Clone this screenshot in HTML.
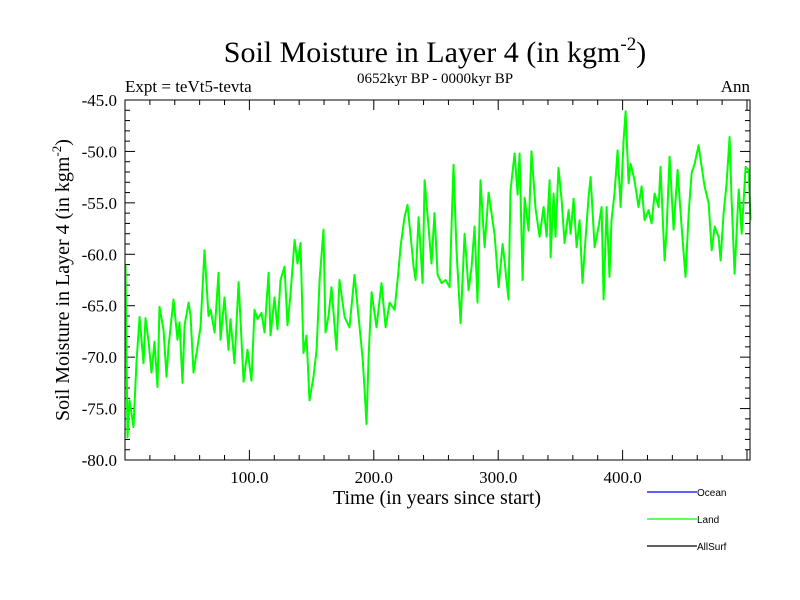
<!DOCTYPE html>
<html><head><meta charset="utf-8"><style>
body{margin:0;background:#fff;}
svg{display:block;font-family:"Liberation Serif",serif;}
</style></head><body>
<svg id="c" width="800" height="600" viewBox="0 0 800 600">
<text x="435" y="62" font-size="30" text-anchor="middle">Soil Moisture in Layer 4 (in kgm<tspan dy="-12" font-size="19">-2</tspan><tspan dy="12">)</tspan></text>
<text x="125" y="92" font-size="17">Expt = teVt5-tevta</text>
<text x="435" y="83" font-size="15" text-anchor="middle">0652kyr BP - 0000kyr BP</text>
<text x="750" y="92" font-size="17" text-anchor="end">Ann</text>
<text x="437" y="504" font-size="20" text-anchor="middle">Time (in years since start)</text>
<text transform="translate(69,280) rotate(-90)" font-size="20" text-anchor="middle">Soil Moisture in Layer 4 (in kgm<tspan dy="-8" font-size="13">-2</tspan><tspan dy="8">)</tspan></text>
<g id="ticks"></g>
<g id="series"></g>
<rect x="125" y="100" width="625" height="360" fill="none" stroke="#000" stroke-width="1"/>
<g id="legend" font-family="Liberation Sans, sans-serif" font-size="10">
<line x1="647" y1="492" x2="697" y2="492" stroke="#0000ff" stroke-width="1.3"/>
<text x="697" y="496">Ocean</text>
<line x1="647" y1="519" x2="697" y2="519" stroke="#00ff00" stroke-width="1.3"/>
<text x="697" y="523">Land</text>
<line x1="647" y1="546" x2="697" y2="546" stroke="#000" stroke-width="1.3"/>
<text x="697" y="550">AllSurf</text>
</g>
</svg>
<script>
const xTickValues=[100,200,300,400];
const xTickLabels=["100.0","200.0","300.0","400.0"];
const yTickValues=[-45,-50,-55,-60,-65,-70,-75,-80];
const yTickLabels=["-45.0","-50.0","-55.0","-60.0","-65.0","-70.0","-75.0","-80.0"];
const years=[0.4,2.0,3.6,6.8,9.2,11.7,14.9,16.5,19.0,21.3,23.7,26.1,27.7,31.0,33.4,35.0,39.0,42.2,43.8,46.2,47.9,51.1,52.7,55.1,58.3,60.7,63.9,67.1,68.8,72.0,75.2,76.8,80.0,83.2,84.8,88.0,91.3,95.3,98.5,101.7,104.1,106.5,109.7,112.1,115.4,117.0,120.2,122.6,125.0,128.2,130.6,133.0,136.3,138.7,141.1,143.5,145.9,148.3,151.5,154.0,156.4,159.6,161.2,163.6,166.0,170.0,172.4,176.5,180.5,184.5,190.9,192.5,194.1,195.8,198.2,202.2,206.2,209.5,212.7,216.7,219.9,221.5,224.7,227.1,229.5,232.0,233.6,236.0,239.2,240.8,244.0,246.4,248.8,251.3,254.5,257.7,260.9,264.1,266.5,269.8,273.0,276.2,278.6,281.0,283.4,285.8,289.1,292.3,297.1,300.3,303.5,305.1,308.3,309.9,313.2,315.6,317.2,319.6,321.2,324.4,326.8,330.0,333.3,336.5,338.9,341.3,342.1,344.5,346.1,348.5,351.0,353.4,356.6,358.2,360.6,363.0,365.4,367.8,369.4,372.7,374.3,377.5,380.7,383.1,384.7,387.1,389.5,391.1,393.5,396.0,398.4,400.8,402.4,404.8,406.4,409.6,412.8,415.3,417.7,420.9,423.3,425.7,428.9,430.5,433.8,435.4,437.8,441.0,444.2,447.4,450.6,453.1,455.5,457.9,461.1,462.7,465.9,469.1,471.6,474.0,477.2,478.8,481.2,483.6,486.0,487.6,490.0,493.3,495.7,498.9,501.3,502.9];
const landValues=[-61,-77.8,-74.2,-76.8,-70.6,-66.1,-70.6,-66.2,-68.5,-71.5,-68.5,-72.9,-65.1,-67.4,-71.9,-69.0,-64.4,-68.3,-66.6,-72.5,-66.9,-64.7,-66.0,-71.5,-69.0,-67.1,-59.6,-66.0,-65.4,-67.6,-61.8,-68.3,-64.2,-69.3,-66.3,-70.6,-62.7,-72.4,-69.3,-72.3,-65.4,-66.3,-65.7,-67.6,-61.8,-67.9,-64.2,-67.3,-62.5,-61.2,-66.9,-63.9,-58.6,-60.9,-58.9,-69.6,-67.9,-74.2,-71.9,-69.3,-62.5,-57.6,-67.6,-66.0,-63.2,-69.3,-62.5,-66.1,-67.1,-62.0,-70.0,-73.0,-76.5,-70.0,-63.7,-67.1,-62.8,-67.1,-64.7,-65.4,-61.5,-59.3,-56.4,-55.2,-58.1,-61.2,-62.5,-56.4,-62.8,-52.8,-57.3,-60.9,-56.0,-62.0,-62.8,-62.5,-63.2,-51.3,-59.6,-66.7,-58.0,-63.5,-61.2,-57.3,-64.7,-52.8,-59.3,-54.0,-58.1,-63.2,-59.0,-60.6,-64.4,-53.8,-50.2,-54.2,-50.2,-62.5,-54.5,-57.7,-50.0,-55.5,-58.3,-55.4,-58.3,-52.8,-60.3,-54.1,-58.3,-51.6,-54.7,-58.9,-55.7,-58.0,-54.6,-59.3,-56.7,-62.8,-59.9,-54.4,-52.5,-59.3,-57.3,-55.4,-64.4,-55.4,-62.2,-56.7,-54.1,-49.9,-55.4,-48.9,-46.1,-53.1,-51.2,-52.8,-55.4,-53.4,-56.7,-55.7,-57.0,-54.1,-55.4,-51.5,-60.6,-57.6,-50.5,-57.6,-51.8,-57.3,-62.2,-56.0,-52.1,-51.2,-49.4,-50.8,-53.4,-55.0,-59.6,-57.3,-58.3,-60.6,-56.0,-53.1,-48.6,-54.7,-61.9,-53.7,-58.0,-51.5,-51.8,-56.7];

const L=125,R=750,T=100,B=460,XMAX=(R-L)/1.244;
const xs=v=>L+v*1.244;
const ys=v=>T+(-45-v)*(B-T)/35;
const NS="http://www.w3.org/2000/svg";
const tg=document.getElementById('ticks');
function mk(tag,attrs,parent){const e=document.createElementNS(NS,tag);for(const k in attrs)e.setAttribute(k,attrs[k]);parent.appendChild(e);return e;}
for(let v=20;v<XMAX;v+=20){
  const major=v%100===0, len=major?10:5, x=xs(v);
  const t1=mk('line',{x1:x,y1:B,x2:x,y2:B-len,stroke:'#000'},tg);
  
  
  const t2=mk('line',{x1:x,y1:T,x2:x,y2:T+len,stroke:'#000'},tg);
  
  
}
xTickValues.forEach((v,i)=>{
  const t=mk('text',{x:xs(v),y:B+23,'font-size':17,'text-anchor':'middle'},tg);
  t.textContent=xTickLabels[i];
  
  
});
for(let v=-45;v>=-80;v-=1){
  const major=v%5===0, len=major?10:5, y=ys(v);
  const t1=mk('line',{x1:L,y1:y,x2:L+len,y2:y,stroke:'#000'},tg);
  
  
  const t2=mk('line',{x1:R,y1:y,x2:R-len,y2:y,stroke:'#000'},tg);
  
  
}
yTickValues.forEach((v,i)=>{
  const t=mk('text',{x:117,y:ys(v)+6,'font-size':17,'text-anchor':'end'},tg);
  t.textContent=yTickLabels[i];
  
  
});
const sg=document.getElementById('series');
const pts=years.map((y,i)=>xs(y).toFixed(1)+','+ys(landValues[i]).toFixed(1)).join(' ');
const pl=mk('polyline',{points:pts,fill:'none',stroke:'#00ff00','stroke-width':2,'stroke-linejoin':'round'},sg);


</script>
</body></html>
